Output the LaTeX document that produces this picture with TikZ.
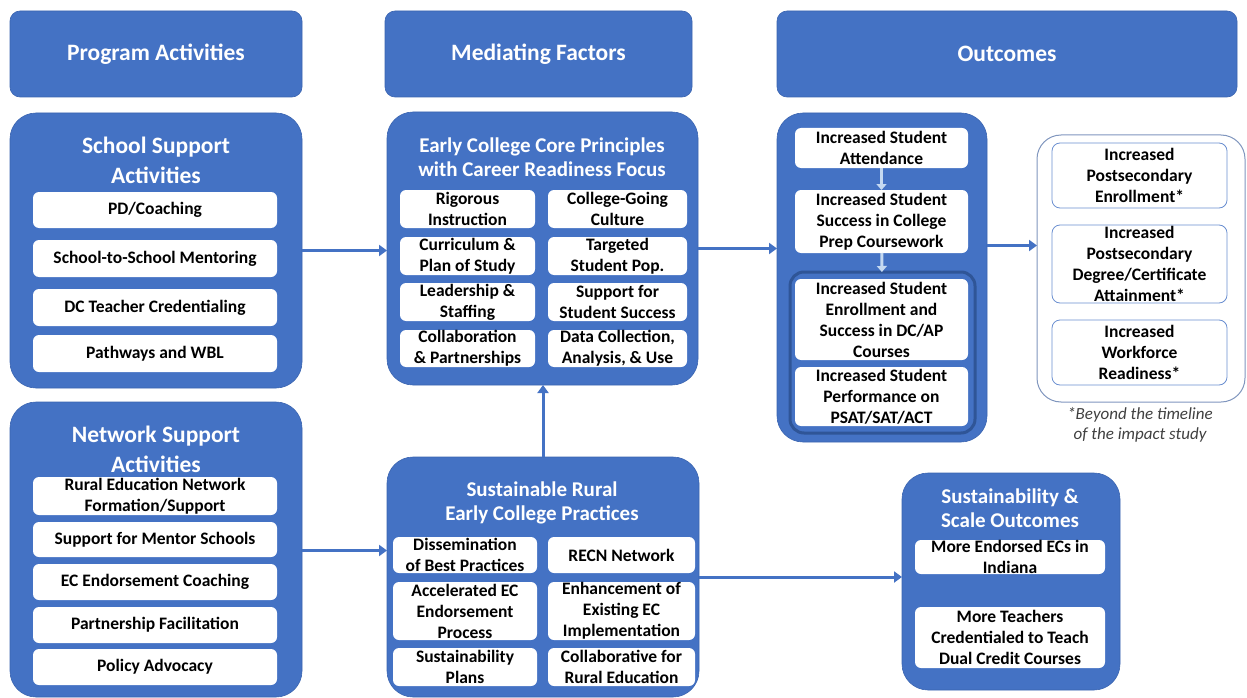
\documentclass[tikz,border=0pt]{standalone}
\usepackage{fontspec}
\setmainfont{Carlito}
\usetikzlibrary{arrows.meta,calc}
\definecolor{mblue}{HTML}{4472C4}
\definecolor{dblue}{HTML}{3A64B0}
\definecolor{gblue}{HTML}{2F5597}
\definecolor{lblue}{HTML}{C5D9F1}
\definecolor{oline}{HTML}{8096BE}
\definecolor{fgray}{HTML}{404040}
\tikzset{
  header/.style={fill=mblue, draw=dblue, line width=0.6pt, rounded corners=10pt, text=white, font=\bfseries\fontsize{23.5}{28}\selectfont},
  bigbox/.style={fill=mblue, draw=dblue, line width=0.6pt, rounded corners=26pt},
  grpbox/.style={draw=gblue, line width=3pt, rounded corners=14pt},
  wbox/.style={fill=white, rounded corners=6pt, text=black, align=center, font=\bfseries\fontsize{17.5}{21}\selectfont},
  obox/.style={fill=white, draw=mblue!80, line width=0.8pt, rounded corners=8pt, text=black, align=center, font=\bfseries\fontsize{17.5}{21}\selectfont},
  outline/.style={fill=white, draw=oline, line width=1pt, rounded corners=24pt},
  ttl/.style={text=white, align=center, font=\bfseries\fontsize{23.5}{30}\selectfont},
  ttls/.style={text=white, align=center, font=\bfseries\fontsize{21}{24.5}\selectfont},
  conn/.style={draw=mblue, line width=3pt, -{Triangle[length=8pt,width=11pt]}},
  sconn/.style={draw=lblue, line width=3pt, -{Triangle[length=6pt,width=10pt]}},
}
\newcommand\bx[7]{\node[#1, inner sep=0pt, outer sep=0pt, minimum width={#5-#3}, minimum height={#6-#4}] (#2) at ({(#3+#5)/2},{(#4+#6)/2}) {#7};}
\begin{document}
\begin{tikzpicture}[x=1pt,y=-1pt]
\useasboundingbox (0,0) rectangle (1247,698);
% headers
\bx{header}{h1}{10}{11}{302}{97}{Program Activities}
\bx{header}{h2}{385}{11}{692}{97}{Mediating Factors}
\bx{header}{h3}{777}{11}{1237}{97}{Outcomes}
% School support
\bx{bigbox}{school}{10}{113}{302}{388}{}
\node[ttl] (schoolt) at (156,160) {School Support\\Activities};
\bx{wbox}{s1}{33}{192}{277}{228}{PD/Coaching}
\bx{wbox}{s2}{33}{240}{277}{277}{School-to-School Mentoring}
\bx{wbox}{s3}{33}{289}{277}{326}{DC Teacher Credentialing}
\bx{wbox}{s4}{33}{335}{277}{372}{Pathways and WBL}
% Network support
\bx{bigbox}{network}{10}{402}{302}{697}{}
\node[ttl] (networkt) at (156,449) {Network Support\\Activities};
\bx{wbox}{n1}{33}{477}{277}{515}{Rural Education Network\\Formation/Support}
\bx{wbox}{n2}{33}{522}{277}{557}{Support for Mentor Schools}
\bx{wbox}{n3}{33}{564}{277}{600}{EC Endorsement Coaching}
\bx{wbox}{n4}{33}{607}{277}{643}{Partnership Facilitation}
\bx{wbox}{n5}{33}{649}{277}{685}{Policy Advocacy}
% Early college
\bx{bigbox}{early}{387}{112}{698}{385}{}
\node[ttls] (earlyt) at (542,157) {Early College Core Principles\\with Career Readiness Focus};
\bx{wbox}{e1}{400}{190}{535}{228}{Rigorous\\Instruction}
\bx{wbox}{e2}{548}{190}{687}{228}{College-Going\\Culture}
\bx{wbox}{e3}{400}{237}{535}{275}{Curriculum \&\\Plan of Study}
\bx{wbox}{e4}{548}{237}{687}{275}{Targeted\\Student Pop.}
\bx{wbox}{e5}{400}{283}{535}{321}{Leadership \&\\Staffing}
\bx{wbox}{e6}{548}{283}{687}{321}{Support for\\Student Success}
\bx{wbox}{e7}{400}{330}{535}{367}{Collaboration\\\& Partnerships}
\bx{wbox}{e8}{548}{330}{687}{367}{Data Collection,\\Analysis, \& Use}
% Sustainable
\bx{bigbox}{sust}{387}{457}{699}{697}{}
\node[ttls] (sustt) at (542,503) {Sustainable Rural\\Early College Practices};
\bx{wbox}{r1}{393}{537}{537}{573}{Dissemination\\of Best Practices}
\bx{wbox}{r2}{548}{537}{695}{573}{RECN Network}
\bx{wbox}{r3}{393}{582}{537}{640}{Accelerated EC\\Endorsement\\Process}
\bx{wbox}{r4}{548}{582}{695}{640}{Enhancement of\\Existing EC\\Implementation}
\bx{wbox}{r5}{393}{648}{537}{686}{Sustainability\\Plans}
\bx{wbox}{r6}{548}{648}{695}{686}{Collaborative for\\Rural Education}
% Outcomes
\bx{bigbox}{outc}{777}{113}{987}{442}{}
\bx{grpbox}{grp}{790}{272}{975}{433}{}
\bx{wbox}{o1}{795}{128}{968}{168}{Increased Student\\Attendance}
\bx{wbox}{o2}{795}{190}{968}{253}{Increased Student\\Success in College\\Prep Coursework}
\bx{wbox}{o3}{795}{279}{968}{360}{Increased Student\\Enrollment and\\Success in DC/AP\\Courses}
\bx{wbox}{o4}{795}{367}{968}{426}{Increased Student\\Performance on\\PSAT/SAT/ACT}
\draw[sconn] (o1) -- (o2);
\draw[sconn] (o2) -- (grp);
% right outline
\bx{outline}{post}{1037}{135}{1245}{402}{}
\bx{obox}{p1}{1052}{143}{1227}{208}{Increased\\Postsecondary\\Enrollment*}
\bx{obox}{p2}{1052}{225}{1227}{303}{Increased\\Postsecondary\\Degree/Certificate\\Attainment*}
\bx{obox}{p3}{1052}{320}{1227}{385}{Increased\\Workforce\\Readiness*}
\node[text=fgray, align=center, font=\itshape\fontsize{17}{20}\selectfont] (foot) at (1140,425) {*Beyond the timeline\\of the impact study};
% Sustainability & scale
\bx{bigbox}{scale}{902}{473}{1120}{690}{}
\node[ttls] (scalet) at (1010,508) {Sustainability \&\\Scale Outcomes};
\bx{wbox}{c1}{915}{540}{1105}{574}{More Endorsed ECs in\\Indiana}
\bx{wbox}{c2}{915}{607}{1105}{668}{More Teachers\\Credentialed to Teach\\Dual Credit Courses}
% connectors
\draw[conn] (school.east) -- (school.east -| early.west);
\draw[conn] ([yshift=-1pt]network.east) -- ([yshift=-1pt]network.east -| sust.west);
\draw[conn] (sust.north) -- (sust.north |- early.south);
\draw[conn] (early.east) -- (early.east -| outc.west);
\draw[conn] ([yshift=32pt]outc.east) -- ([yshift=32pt]outc.east -| post.west);
\draw[conn] (sust.east) -- (sust.east -| scale.west);
\end{tikzpicture}
\end{document}
